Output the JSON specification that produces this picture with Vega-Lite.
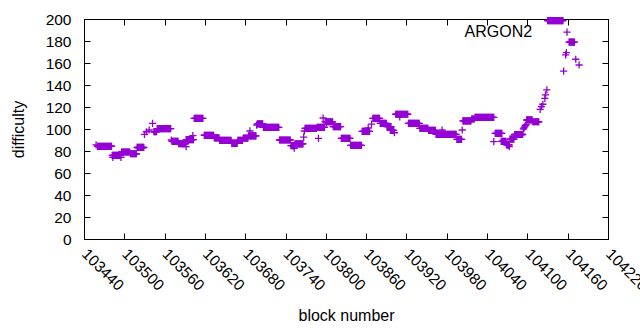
{
"$schema": "https://vega.github.io/schema/vega-lite/v6.json",
"width": 524, "height": 220,
"autosize": "none",
"padding": {"left": 84, "top": 19, "right": 32, "bottom": 91},
"config": {
  "font": "Liberation Sans",
  "view": {"stroke": "#000", "strokeWidth": 1},
  "axis": {"grid": false, "domain": false, "tickColor": "#000", "tickSize": -6, "tickWidth": 1,
    "labelColor": "#000", "labelFont": "Liberation Sans", "labelFontSize": 15.5,
    "titleFont": "Liberation Sans", "titleFontSize": 16, "titleFontWeight": "normal", "titleColor": "#000"}
},
"datasets": {
 "pts": [
{"b":103458,"d":85.5},
{"b":103460,"d":84.3},{"b":103461,"d":84.3},{"b":103462,"d":84.3},{"b":103463,"d":84.3},{"b":103464,"d":84.3},{"b":103465,"d":84.3},{"b":103466,"d":84.3},{"b":103467,"d":84.3},{"b":103468,"d":84.3},{"b":103469,"d":84.3},{"b":103470,"d":84.3},{"b":103471,"d":84.3},{"b":103472,"d":84.3},{"b":103473,"d":84.3},{"b":103474,"d":84.3},{"b":103475,"d":84.3},{"b":103476,"d":84.3},{"b":103477,"d":84.3},{"b":103478,"d":84.3},{"b":103479,"d":84.3},{"b":103480,"d":84.3},{"b":103481,"d":84.3},
{"b":103482,"d":76.1},{"b":103483,"d":76.1},{"b":103484,"d":76.1},{"b":103485,"d":76.1},{"b":103486,"d":76.1},{"b":103487,"d":76.1},{"b":103488,"d":76.1},{"b":103489,"d":76.1},{"b":103490,"d":76.1},{"b":103491,"d":76.1},{"b":103492,"d":76.1},{"b":103493,"d":76.1},{"b":103494,"d":76.1},{"b":103483,"d":74.3},{"b":103495,"d":74.3},
{"b":103496,"d":79.1},{"b":103497,"d":79.1},{"b":103498,"d":79.1},{"b":103499,"d":79.1},{"b":103500,"d":79.1},{"b":103501,"d":79.1},{"b":103502,"d":79.1},{"b":103503,"d":79.1},{"b":103504,"d":79.1},{"b":103505,"d":79.1},{"b":103506,"d":79.1},{"b":103507,"d":79.1},{"b":103508,"d":79.1},
{"b":103509,"d":77.5},{"b":103510,"d":77.5},{"b":103511,"d":77.5},{"b":103512,"d":77.5},{"b":103513,"d":77.5},{"b":103514,"d":77.5},{"b":103515,"d":77.5},{"b":103516,"d":77.5},{"b":103517,"d":77.5},{"b":103518,"d":77.5},
{"b":103519,"d":83.2},{"b":103520,"d":83.2},{"b":103521,"d":83.2},{"b":103522,"d":83.2},{"b":103523,"d":83.2},{"b":103524,"d":83.2},{"b":103525,"d":83.2},{"b":103526,"d":83.2},{"b":103527,"d":83.2},{"b":103528,"d":83.2},{"b":103529,"d":83.2},
{"b":103530,"d":95.2},{"b":103533,"d":97.5},{"b":103537,"d":99.1},{"b":103542,"d":105.2},
{"b":103544,"d":97.5},{"b":103545,"d":97.5},{"b":103546,"d":97.5},{"b":103547,"d":97.5},{"b":103548,"d":97.5},
{"b":103549,"d":100.3},{"b":103550,"d":100.3},{"b":103551,"d":100.3},{"b":103552,"d":100.3},{"b":103553,"d":100.3},{"b":103554,"d":100.3},{"b":103555,"d":100.3},{"b":103556,"d":100.3},{"b":103557,"d":100.3},{"b":103558,"d":100.3},{"b":103559,"d":100.3},{"b":103560,"d":100.3},{"b":103561,"d":100.3},{"b":103562,"d":100.3},{"b":103563,"d":100.3},{"b":103564,"d":100.3},{"b":103565,"d":100.3},{"b":103566,"d":100.3},{"b":103567,"d":100.3},{"b":103568,"d":100.3},{"b":103569,"d":100.3},
{"b":103570,"d":90},
{"b":103571,"d":88.8},{"b":103572,"d":88.8},{"b":103573,"d":88.8},{"b":103574,"d":88.8},{"b":103575,"d":88.8},{"b":103576,"d":88.8},{"b":103577,"d":88.8},{"b":103578,"d":88.8},{"b":103579,"d":88.8},{"b":103580,"d":88.8},
{"b":103581,"d":86.6},{"b":103582,"d":86.6},{"b":103583,"d":86.6},{"b":103584,"d":86.6},{"b":103585,"d":86.6},{"b":103586,"d":86.6},{"b":103587,"d":86.6},{"b":103588,"d":86.6},{"b":103589,"d":86.6},{"b":103590,"d":86.6},{"b":103591,"d":86.6},{"b":103592,"d":83.9},
{"b":103592,"d":90.3},{"b":103593,"d":90.3},{"b":103594,"d":90.3},{"b":103595,"d":90.3},{"b":103596,"d":90.3},{"b":103597,"d":90.3},{"b":103598,"d":90.3},{"b":103599,"d":90.3},{"b":103600,"d":90.3},{"b":103601,"d":90.3},{"b":103602,"d":90.3},{"b":103603,"d":90.3},{"b":103602,"d":93.9},
{"b":103604,"d":109.7},{"b":103605,"d":109.7},{"b":103606,"d":109.7},{"b":103607,"d":109.7},{"b":103608,"d":109.7},{"b":103609,"d":109.7},{"b":103610,"d":109.7},{"b":103611,"d":109.7},{"b":103612,"d":109.7},{"b":103613,"d":109.7},{"b":103614,"d":109.7},{"b":103615,"d":109.7},{"b":103616,"d":109.7},{"b":103617,"d":109.7},
{"b":103619,"d":94.3},{"b":103620,"d":94.3},{"b":103621,"d":94.3},{"b":103622,"d":94.3},{"b":103623,"d":94.3},{"b":103624,"d":94.3},{"b":103625,"d":94.3},{"b":103626,"d":94.3},{"b":103627,"d":94.3},{"b":103628,"d":94.3},{"b":103629,"d":94.3},{"b":103630,"d":94.3},{"b":103631,"d":94.3},{"b":103632,"d":94.3},{"b":103633,"d":94.3},
{"b":103634,"d":92},{"b":103635,"d":92},{"b":103636,"d":92},{"b":103637,"d":92},{"b":103638,"d":92},{"b":103639,"d":92},{"b":103640,"d":92},{"b":103641,"d":92},
{"b":103642,"d":89.7},{"b":103643,"d":89.7},{"b":103644,"d":89.7},{"b":103645,"d":89.7},{"b":103646,"d":89.7},{"b":103647,"d":89.7},{"b":103648,"d":89.7},{"b":103649,"d":89.7},{"b":103650,"d":89.7},{"b":103651,"d":89.7},{"b":103652,"d":89.7},{"b":103653,"d":89.7},{"b":103654,"d":89.7},{"b":103655,"d":89.7},{"b":103656,"d":89.7},{"b":103657,"d":89.7},{"b":103658,"d":89.7},{"b":103659,"d":89.7},
{"b":103660,"d":87},{"b":103661,"d":87},{"b":103662,"d":87},{"b":103663,"d":87},{"b":103664,"d":87},{"b":103665,"d":87},{"b":103666,"d":87},{"b":103667,"d":87},{"b":103668,"d":87},
{"b":103669,"d":89.7},{"b":103670,"d":89.7},{"b":103671,"d":89.7},{"b":103672,"d":89.7},{"b":103673,"d":89.7},{"b":103674,"d":89.7},{"b":103675,"d":89.7},{"b":103676,"d":89.7},
{"b":103677,"d":91.8},{"b":103678,"d":91.8},{"b":103679,"d":91.8},{"b":103680,"d":91.8},{"b":103681,"d":91.8},{"b":103682,"d":91.8},{"b":103683,"d":91.8},{"b":103684,"d":91.8},
{"b":103685,"d":93.8},{"b":103686,"d":93.8},{"b":103687,"d":93.8},{"b":103688,"d":93.8},{"b":103689,"d":93.8},{"b":103690,"d":93.8},{"b":103691,"d":93.8},{"b":103692,"d":93.8},{"b":103693,"d":93.8},{"b":103694,"d":93.8},{"b":103695,"d":93.8},{"b":103696,"d":93.8},{"b":103687,"d":98.2},
{"b":103697,"d":103.6},{"b":103698,"d":104.7},{"b":103699,"d":104.7},{"b":103700,"d":104.7},{"b":103701,"d":104.7},{"b":103702,"d":104.7},{"b":103703,"d":104.7},{"b":103704,"d":104.7},{"b":103705,"d":104.7},{"b":103706,"d":104.7},
{"b":103707,"d":101.5},{"b":103708,"d":101.5},{"b":103709,"d":101.5},{"b":103710,"d":101.5},{"b":103711,"d":101.5},{"b":103712,"d":101.5},{"b":103713,"d":101.5},{"b":103714,"d":101.5},{"b":103715,"d":101.5},{"b":103716,"d":101.5},{"b":103717,"d":101.5},{"b":103718,"d":101.5},{"b":103719,"d":101.5},{"b":103720,"d":101.5},{"b":103721,"d":101.5},{"b":103722,"d":101.5},{"b":103723,"d":101.5},{"b":103724,"d":101.5},{"b":103725,"d":101.5},{"b":103726,"d":101.5},{"b":103727,"d":101.5},{"b":103728,"d":101.5},{"b":103729,"d":101.5},{"b":103730,"d":101.5},
{"b":103731,"d":90},{"b":103732,"d":90},{"b":103733,"d":90},{"b":103734,"d":90},{"b":103735,"d":90},{"b":103736,"d":90},{"b":103737,"d":90},{"b":103738,"d":90},{"b":103739,"d":90},{"b":103740,"d":90},{"b":103741,"d":90},{"b":103742,"d":90},{"b":103743,"d":90},{"b":103744,"d":90},{"b":103745,"d":90},{"b":103746,"d":90},{"b":103747,"d":90},
{"b":103748,"d":84.8},{"b":103749,"d":84.8},{"b":103750,"d":84.8},{"b":103751,"d":84.8},{"b":103752,"d":84.8},{"b":103753,"d":84.8},{"b":103753,"d":82.5},
{"b":103754,"d":86.4},{"b":103755,"d":86.4},{"b":103756,"d":86.4},{"b":103757,"d":86.4},{"b":103758,"d":86.4},{"b":103759,"d":86.4},{"b":103760,"d":86.4},{"b":103761,"d":86.4},{"b":103762,"d":86.4},{"b":103763,"d":86.4},{"b":103764,"d":86.4},{"b":103765,"d":86.4},{"b":103766,"d":86.4},
{"b":103767,"d":92.7},{"b":103768,"d":98.2},
{"b":103769,"d":100.6},{"b":103770,"d":100.6},{"b":103771,"d":100.6},{"b":103772,"d":100.6},{"b":103773,"d":100.6},{"b":103774,"d":100.6},{"b":103775,"d":100.6},{"b":103776,"d":100.6},{"b":103777,"d":100.6},{"b":103778,"d":100.6},{"b":103779,"d":100.6},{"b":103780,"d":100.6},{"b":103781,"d":100.6},{"b":103782,"d":100.6},{"b":103783,"d":100.6},{"b":103784,"d":100.6},{"b":103785,"d":100.6},{"b":103786,"d":100.6},
{"b":103789,"d":91.5},
{"b":103787,"d":101.5},{"b":103788,"d":101.5},{"b":103789,"d":101.5},{"b":103790,"d":101.5},{"b":103791,"d":101.5},{"b":103792,"d":101.5},{"b":103793,"d":101.5},{"b":103794,"d":101.5},{"b":103795,"d":101.5},{"b":103796,"d":101.5},{"b":103797,"d":101.5},{"b":103798,"d":101.5},
{"b":103796,"d":110},{"b":103801,"d":105.5},
{"b":103799,"d":106.6},{"b":103800,"d":106.6},{"b":103801,"d":106.6},{"b":103802,"d":106.6},{"b":103803,"d":106.6},{"b":103804,"d":106.6},{"b":103805,"d":106.6},{"b":103806,"d":106.6},{"b":103807,"d":106.6},{"b":103808,"d":106.6},{"b":103809,"d":106.6},{"b":103810,"d":106.6},
{"b":103811,"d":102.1},{"b":103812,"d":102.1},{"b":103813,"d":102.1},{"b":103814,"d":102.1},{"b":103815,"d":102.1},{"b":103816,"d":102.1},{"b":103817,"d":102.1},{"b":103818,"d":102.1},{"b":103819,"d":102.1},{"b":103820,"d":102.1},{"b":103821,"d":102.1},{"b":103822,"d":102.1},
{"b":103823,"d":91.5},{"b":103824,"d":91.5},{"b":103825,"d":91.5},{"b":103826,"d":91.5},{"b":103827,"d":91.5},{"b":103828,"d":91.5},{"b":103829,"d":91.5},{"b":103830,"d":91.5},{"b":103831,"d":91.5},{"b":103832,"d":91.5},{"b":103833,"d":91.5},{"b":103834,"d":91.5},{"b":103835,"d":91.5},{"b":103836,"d":91.5},
{"b":103837,"d":85.2},{"b":103838,"d":85.2},{"b":103839,"d":85.2},{"b":103840,"d":85.2},{"b":103841,"d":85.2},{"b":103842,"d":85.2},{"b":103843,"d":85.2},{"b":103844,"d":85.2},{"b":103845,"d":85.2},{"b":103846,"d":85.2},{"b":103847,"d":85.2},{"b":103848,"d":85.2},{"b":103849,"d":85.2},{"b":103850,"d":85.2},{"b":103851,"d":85.2},{"b":103852,"d":85.2},{"b":103853,"d":85.2},
{"b":103854,"d":97.9},{"b":103855,"d":97.9},{"b":103856,"d":97.9},{"b":103857,"d":97.9},{"b":103858,"d":97.9},{"b":103859,"d":97.9},{"b":103860,"d":97.9},{"b":103861,"d":97.9},{"b":103862,"d":97.9},{"b":103863,"d":97.9},{"b":103864,"d":97.9},{"b":103865,"d":97.9},{"b":103863,"d":100.9},{"b":103868,"d":104.5},
{"b":103870,"d":109.7},{"b":103871,"d":109.7},{"b":103872,"d":109.7},{"b":103873,"d":109.7},{"b":103874,"d":109.7},{"b":103875,"d":109.7},{"b":103876,"d":109.7},{"b":103877,"d":109.7},{"b":103878,"d":109.7},{"b":103879,"d":109.7},{"b":103880,"d":109.7},
{"b":103881,"d":105.2},{"b":103882,"d":105.2},{"b":103883,"d":105.2},{"b":103884,"d":105.2},{"b":103885,"d":105.2},{"b":103886,"d":105.2},{"b":103887,"d":105.2},{"b":103888,"d":105.2},{"b":103889,"d":105.2},{"b":103890,"d":105.2},
{"b":103891,"d":102.1},{"b":103892,"d":102.1},{"b":103893,"d":102.1},{"b":103894,"d":102.1},{"b":103895,"d":102.1},{"b":103896,"d":102.1},{"b":103897,"d":102.1},
{"b":103896,"d":98.8},{"b":103897,"d":98.8},{"b":103898,"d":98.8},{"b":103899,"d":98.8},{"b":103900,"d":98.8},{"b":103901,"d":98.8},{"b":103902,"d":96.6},
{"b":103904,"d":113.4},{"b":103905,"d":113.4},{"b":103906,"d":113.4},{"b":103907,"d":113.4},{"b":103908,"d":113.4},{"b":103909,"d":113.4},{"b":103910,"d":113.4},{"b":103911,"d":113.4},{"b":103912,"d":113.4},{"b":103913,"d":113.4},{"b":103914,"d":113.4},{"b":103915,"d":113.4},{"b":103916,"d":113.4},{"b":103917,"d":113.4},{"b":103918,"d":113.4},{"b":103919,"d":113.4},{"b":103920,"d":113.4},{"b":103921,"d":113.4},{"b":103922,"d":113.4},{"b":103910,"d":111},
{"b":103923,"d":105.2},{"b":103924,"d":105.2},{"b":103925,"d":105.2},{"b":103926,"d":105.2},{"b":103927,"d":105.2},{"b":103928,"d":105.2},{"b":103929,"d":105.2},{"b":103930,"d":105.2},{"b":103931,"d":105.2},{"b":103932,"d":105.2},{"b":103933,"d":105.2},{"b":103934,"d":105.2},{"b":103935,"d":105.2},{"b":103936,"d":105.2},{"b":103937,"d":105.2},{"b":103938,"d":105.2},{"b":103939,"d":105.2},
{"b":103940,"d":100.6},{"b":103941,"d":100.6},{"b":103942,"d":100.6},{"b":103943,"d":100.6},{"b":103944,"d":100.6},{"b":103945,"d":100.6},{"b":103946,"d":100.6},{"b":103947,"d":100.6},{"b":103948,"d":100.6},{"b":103949,"d":100.6},{"b":103950,"d":100.6},{"b":103951,"d":100.6},{"b":103952,"d":100.6},
{"b":103953,"d":98.8},{"b":103954,"d":98.8},{"b":103955,"d":98.8},{"b":103956,"d":98.8},{"b":103957,"d":98.8},{"b":103958,"d":98.8},{"b":103959,"d":98.8},{"b":103960,"d":98.8},{"b":103961,"d":98.8},{"b":103962,"d":98.8},{"b":103963,"d":98.8},
{"b":103964,"d":95.2},{"b":103965,"d":95.2},{"b":103966,"d":95.2},{"b":103967,"d":95.2},{"b":103968,"d":95.2},{"b":103969,"d":95.2},{"b":103970,"d":95.2},{"b":103971,"d":95.2},{"b":103972,"d":95.2},{"b":103973,"d":95.2},{"b":103974,"d":95.2},{"b":103975,"d":95.2},{"b":103976,"d":95.2},{"b":103977,"d":95.2},{"b":103978,"d":95.2},{"b":103979,"d":95.2},{"b":103980,"d":95.2},{"b":103981,"d":95.2},{"b":103982,"d":95.2},{"b":103983,"d":95.2},{"b":103984,"d":95.2},{"b":103985,"d":95.2},{"b":103986,"d":95.2},{"b":103987,"d":95.2},{"b":103988,"d":95.2},{"b":103989,"d":95.2},{"b":103990,"d":95.2},{"b":103991,"d":95.2},{"b":103992,"d":95.2},{"b":103993,"d":95.2},{"b":103994,"d":95.2},{"b":103973,"d":99.1},
{"b":103995,"d":90.6},{"b":103996,"d":90.6},{"b":103997,"d":90.6},{"b":103998,"d":90.6},{"b":103999,"d":90.6},{"b":104000,"d":90.6},{"b":104001,"d":90.6},{"b":104002,"d":90.6},
{"b":104003,"d":99.1},
{"b":104004,"d":107.3},{"b":104005,"d":107.3},{"b":104006,"d":107.3},{"b":104007,"d":107.3},{"b":104008,"d":107.3},{"b":104009,"d":107.3},{"b":104010,"d":107.3},{"b":104011,"d":107.3},{"b":104012,"d":107.3},{"b":104013,"d":107.3},{"b":104014,"d":107.3},{"b":104015,"d":107.3},{"b":104016,"d":107.3},
{"b":104017,"d":109.1},{"b":104018,"d":109.1},{"b":104019,"d":109.1},{"b":104020,"d":109.1},{"b":104021,"d":109.1},
{"b":104022,"d":110.6},{"b":104023,"d":110.6},{"b":104024,"d":110.6},{"b":104025,"d":110.6},{"b":104026,"d":110.6},{"b":104027,"d":110.6},{"b":104028,"d":110.6},{"b":104029,"d":110.6},{"b":104030,"d":110.6},{"b":104031,"d":110.6},{"b":104032,"d":110.6},{"b":104033,"d":110.6},{"b":104034,"d":110.6},{"b":104035,"d":110.6},{"b":104036,"d":110.6},{"b":104037,"d":110.6},{"b":104038,"d":110.6},{"b":104039,"d":110.6},{"b":104040,"d":110.6},{"b":104041,"d":110.6},{"b":104042,"d":110.6},{"b":104043,"d":110.6},{"b":104044,"d":110.6},{"b":104045,"d":110.6},{"b":104046,"d":110.6},{"b":104047,"d":110.6},{"b":104048,"d":110.6},{"b":104049,"d":110.6},{"b":104050,"d":110.6},
{"b":104050,"d":88.5},
{"b":104052,"d":96.1},{"b":104053,"d":96.1},{"b":104054,"d":96.1},{"b":104055,"d":96.1},{"b":104056,"d":96.1},{"b":104057,"d":96.1},{"b":104058,"d":96.1},{"b":104059,"d":96.1},{"b":104060,"d":96.1},{"b":104061,"d":96.1},{"b":104062,"d":96.1},
{"b":104061,"d":88.8},{"b":104062,"d":88.8},{"b":104063,"d":88.8},{"b":104064,"d":88.8},{"b":104065,"d":88.8},{"b":104066,"d":88.8},{"b":104067,"d":88.8},{"b":104068,"d":88.8},
{"b":104069,"d":85.5},{"b":104070,"d":85.5},{"b":104071,"d":85.5},{"b":104072,"d":85.5},{"b":104073,"d":85.5},{"b":104073,"d":83.9},
{"b":104074,"d":90.7},{"b":104075,"d":90.7},{"b":104076,"d":90.7},{"b":104077,"d":90.7},{"b":104078,"d":90.7},{"b":104079,"d":90.7},{"b":104080,"d":90.7},
{"b":104081,"d":95},{"b":104082,"d":95},{"b":104083,"d":95},{"b":104084,"d":95},{"b":104085,"d":95},{"b":104086,"d":95},{"b":104087,"d":95},{"b":104088,"d":95},{"b":104089,"d":95},{"b":104090,"d":95},{"b":104091,"d":95},{"b":104092,"d":95},{"b":104093,"d":95},
{"b":104094,"d":100},{"b":104095,"d":101},{"b":104096,"d":102},{"b":104097,"d":103},{"b":104098,"d":104},
{"b":104099,"d":108.2},{"b":104100,"d":108.2},{"b":104101,"d":108.2},{"b":104102,"d":108.2},{"b":104103,"d":108.2},{"b":104104,"d":108.2},{"b":104105,"d":108.2},{"b":104106,"d":108.2},{"b":104107,"d":108.2},
{"b":104108,"d":106.6},{"b":104109,"d":106.6},{"b":104110,"d":106.6},{"b":104111,"d":106.6},{"b":104112,"d":106.6},{"b":104113,"d":106.6},{"b":104114,"d":106.6},{"b":104115,"d":106.6},{"b":104116,"d":106.6},{"b":104117,"d":106.6},
{"b":104119,"d":117.9},{"b":104121,"d":120.3},{"b":104123,"d":122.5},{"b":104126,"d":127.9},{"b":104127,"d":131},{"b":104129,"d":135.5},
{"b":104130,"d":198.5},{"b":104131,"d":198.5},{"b":104132,"d":198.5},{"b":104133,"d":198.5},{"b":104134,"d":198.5},{"b":104135,"d":198.5},{"b":104136,"d":198.5},{"b":104137,"d":198.5},{"b":104138,"d":198.5},{"b":104139,"d":198.5},{"b":104140,"d":198.5},{"b":104141,"d":198.5},{"b":104142,"d":198.5},{"b":104143,"d":198.5},{"b":104144,"d":198.5},{"b":104145,"d":198.5},{"b":104146,"d":198.5},{"b":104147,"d":198.5},{"b":104148,"d":198.5},{"b":104149,"d":198.5},{"b":104150,"d":198.5},{"b":104151,"d":198.5},{"b":104152,"d":198.5},{"b":104153,"d":198.5},
{"b":104154,"d":152.7},{"b":104157,"d":167.3},{"b":104158,"d":169.5},{"b":104159,"d":188},
{"b":104162,"d":178.9},{"b":104163,"d":178.9},{"b":104164,"d":178.9},{"b":104165,"d":178.9},{"b":104166,"d":178.9},{"b":104167,"d":178.9},{"b":104168,"d":178.9},{"b":104169,"d":178.9},{"b":104170,"d":178.9},
{"b":104172,"d":163.4},{"b":104177,"d":158.2}
 ],
 "key": [{"label": "ARGON2", "b": 104107, "d": 188}]
},
"layer": [
 {
  "data": {"name": "pts"},
  "mark": {"type": "point", "shape": "M-1,0H1M0,-1V1", "size": 52, "filled": false, "stroke": "#9400D3", "strokeWidth": 1.3, "opacity": 1},
  "encoding": {
   "x": {"field": "b", "type": "quantitative",
     "scale": {"domain": [103440, 104220], "nice": false, "zero": false},
     "axis": {"orient": "bottom", "values": [103440,103500,103560,103620,103680,103740,103800,103860,103920,103980,104040,104100,104160,104220],
       "format": "d", "labelAngle": 45, "labelAlign": "left", "labelBaseline": "middle", "labelPadding": 18,
       "labelFlush": false, "labelOverlap": false, "labelBound": false, "title": "block number", "titlePadding": 14}},
   "y": {"field": "d", "type": "quantitative",
     "scale": {"domain": [0, 200], "nice": false, "zero": true},
     "axis": {"orient": "left", "values": [0,20,40,60,80,100,120,140,160,180,200], "format": "d",
       "labelPadding": 19, "labelFlush": false, "labelOverlap": false, "title": "difficulty", "titlePadding": 19}}
  }
 },
 {
  "data": {"name": "key"},
  "mark": {"type": "text", "align": "right", "baseline": "middle", "font": "Liberation Sans", "fontSize": 16, "color": "#000"},
  "encoding": {
   "text": {"field": "label"},
   "x": {"field": "b", "type": "quantitative",
     "scale": {"domain": [103440, 104220], "nice": false, "zero": false},
     "axis": {"orient": "top", "values": [103440,103500,103560,103620,103680,103740,103800,103860,103920,103980,104040,104100,104160,104220],
       "labels": false, "title": null}},
   "y": {"field": "d", "type": "quantitative",
     "scale": {"domain": [0, 200], "nice": false, "zero": true},
     "axis": {"orient": "right", "values": [0,20,40,60,80,100,120,140,160,180,200], "labels": false, "title": null}}
  }
 }
],
"resolve": {"axis": {"x": "independent", "y": "independent"}}
}
